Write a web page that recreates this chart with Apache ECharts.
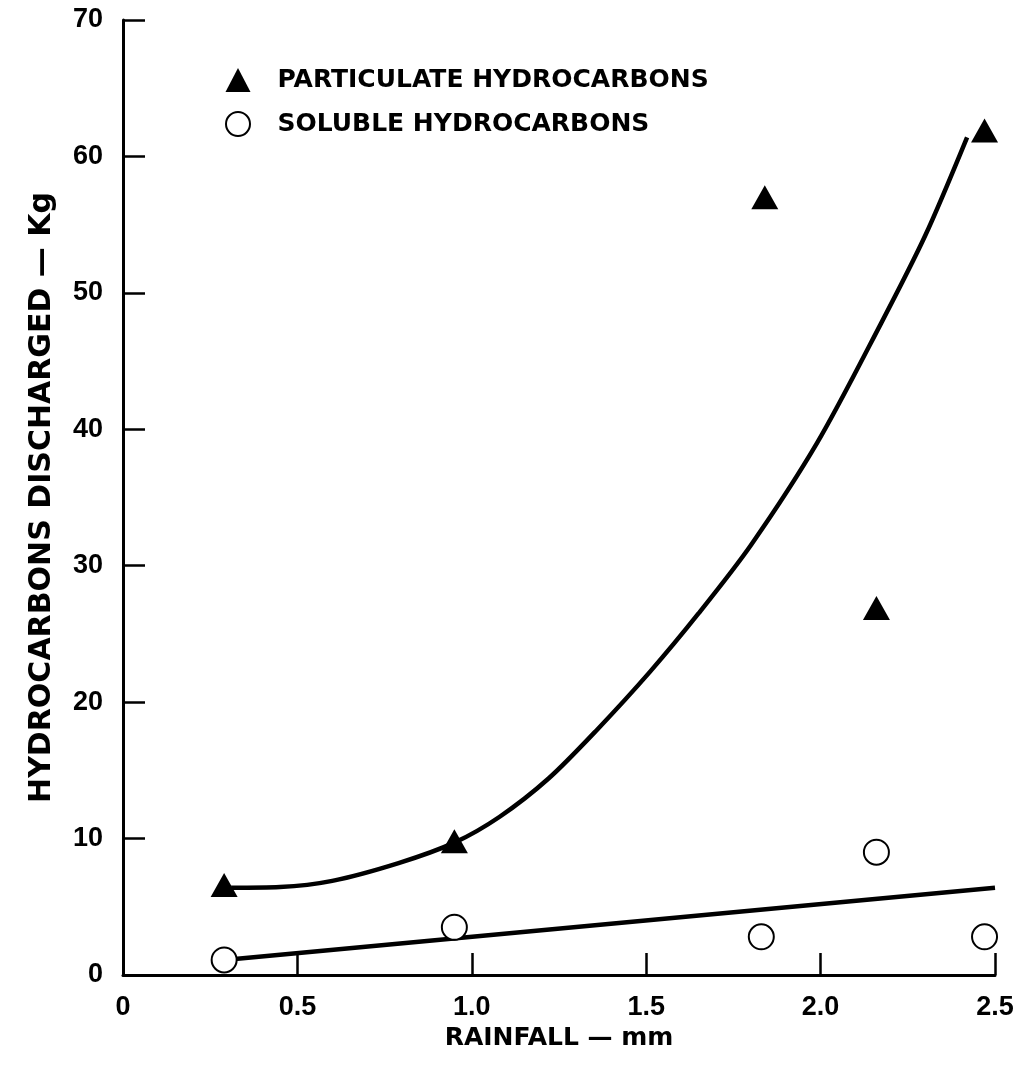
<!DOCTYPE html>
<html>
<head>
<meta charset="utf-8">
<script src="https://cdn.jsdelivr.net/npm/echarts@6/dist/echarts.min.js"></script>
<style>
  html, body { margin: 0; padding: 0; background: #fff; }
  #main { width: 1018px; height: 1076px; }
</style>
</head>
<body>
<div id="main"></div>
<script>
// rainfall vs hydrocarbons discharged

var xTicks = [0, 0.5, 1.0, 1.5, 2.0, 2.5];
var yTicks = [0, 10, 20, 30, 40, 50, 60, 70];

// measured points [rainfall mm, kg]
var particulate = [[0.29, 6.6], [0.95, 9.8], [1.84, 57.0], [2.16, 26.9], [2.47, 61.9]];
var soluble = [[0.29, 1.1], [0.95, 3.5], [1.83, 2.8], [2.16, 9.0], [2.47, 2.8]];

// fitted curves
var particulateFit = [
  [0.31, 6.4], [0.45, 6.45], [0.60, 6.9], [0.79, 8.2], [0.95, 9.7],
  [1.08, 11.6], [1.22, 14.4], [1.36, 18.0], [1.51, 22.2], [1.65, 26.5],
  [1.80, 31.5], [1.99, 39.0], [2.17, 47.6], [2.30, 54.2], [2.42, 61.4]
];
var solubleFit = [[0.29, 1.1], [2.5, 6.4]];

var chart = echarts.init(document.getElementById('main'), null, { renderer: 'canvas' });

var option = {
  backgroundColor: '#fff',
  animation: false,
  grid: {
    left: 123,
    right: 23,
    top: 20,
    bottom: 101,
    containLabel: false
  },
  legend: {
    orient: 'vertical',
    left: 220,
    top: 61,
    itemWidth: 25,
    itemHeight: 24,
    itemGap: 16,
    selectedMode: false,
    data: ['PARTICULATE HYDROCARBONS', 'SOLUBLE HYDROCARBONS'],
    textStyle: {
      fontFamily: 'DejaVu Sans',
      fontWeight: 'bold',
      fontSize: 25,
      lineHeight: 28,
      color: '#000',
      padding: [0, 0, 0, 22]
    }
  },
  xAxis: {
    type: 'value',
    min: xTicks[0],
    max: xTicks[xTicks.length - 1],
    interval: 0.5,
    name: 'RAINFALL — mm',
    nameLocation: 'middle',
    nameGap: 46,
    nameTextStyle: {
      fontFamily: 'DejaVu Sans',
      fontWeight: 'bold',
      fontSize: 25,
      color: '#000'
    },
    splitLine: { show: false },
    axisLine: { lineStyle: { color: '#000', width: 3 } },
    axisTick: { inside: true, length: 22, lineStyle: { color: '#000', width: 2.5 } },
    axisLabel: {
      margin: 19,
      fontFamily: 'Liberation Sans',
      fontWeight: 'bold',
      fontSize: 27,
      color: '#000',
      formatter: function (v) {
        return v === 0 ? '0' : v.toFixed(1);
      }
    }
  },
  yAxis: {
    type: 'value',
    min: yTicks[0],
    max: yTicks[yTicks.length - 1],
    interval: 10,
    name: 'HYDROCARBONS DISCHARGED — Kg',
    nameLocation: 'middle',
    nameGap: 66,
    nameTextStyle: {
      fontFamily: 'DejaVu Sans',
      fontWeight: 'bold',
      fontSize: 30,
      color: '#000'
    },
    splitLine: { show: false },
    axisLine: { lineStyle: { color: '#000', width: 3 } },
    axisTick: { inside: true, length: 22, lineStyle: { color: '#000', width: 2.5 } },
    axisLabel: {
      margin: 20,
      fontFamily: 'Liberation Sans',
      fontWeight: 'bold',
      fontSize: 27,
      color: '#000'
    }
  },
  series: [
    {
      name: 'fitP',
      type: 'line',
      data: particulateFit,
      smooth: 0.3,
      showSymbol: false,
      symbol: 'none',
      z: 2,
      lineStyle: { color: '#000', width: 4.5 }
    },
    {
      name: 'fitS',
      type: 'line',
      data: solubleFit,
      showSymbol: false,
      symbol: 'none',
      z: 2,
      lineStyle: { color: '#000', width: 4.5 }
    },
    {
      name: 'PARTICULATE HYDROCARBONS',
      type: 'scatter',
      data: particulate,
      symbol: 'triangle',
      symbolSize: [27, 24],
      z: 5,
      itemStyle: { color: '#000', opacity: 1 }
    },
    {
      name: 'SOLUBLE HYDROCARBONS',
      type: 'scatter',
      data: soluble,
      symbol: 'emptyCircle',
      symbolSize: 25,
      z: 5,
      itemStyle: { color: '#000', borderColor: '#000', borderWidth: 3, opacity: 1 }
    }
  ]
};

chart.setOption(option);
</script>
</body>
</html>
